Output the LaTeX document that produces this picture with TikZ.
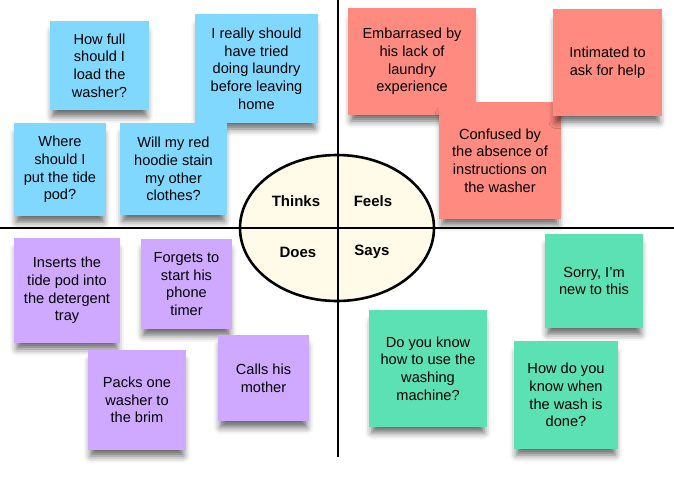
\documentclass[tikz,border=0pt]{standalone}
\usepackage{fontspec}
\setmainfont{Liberation Sans}
\usetikzlibrary{shadows.blur}
\definecolor{thinkblue}{HTML}{80D8FF}
\definecolor{feelred}{HTML}{FF8A80}
\definecolor{doespurple}{HTML}{CFA9FF}
\definecolor{saysgreen}{HTML}{5CE1B4}
\definecolor{cream}{HTML}{FFFBE8}
\tikzset{note/.style={fill=#1, align=center, inner sep=0pt, font=\fontsize{14.6}{17.7}\selectfont,
  blur shadow={shadow xshift=0pt, shadow yshift=-9pt, shadow scale=0.95, shadow blur radius=7pt, shadow opacity=60}}}
\tikzset{lab/.style={font=\fontsize{15}{17}\selectfont\bfseries}}
\tikzset{axis/.style={line width=2.6pt}}

\begin{document}
\begin{tikzpicture}[x=1pt,y=-1pt]
\useasboundingbox (0,0) rectangle (674,477);

% thinks
\node[note=thinkblue, minimum width=99pt, minimum height=89pt] (t1) at (99.5,65.5) {How full\\should I\\load the\\washer?};
\node[note=thinkblue, minimum width=123pt, minimum height=109pt] (t2) at (256.5,68.5) {I really should\\have tried\\doing laundry\\before leaving\\home};
\node[note=thinkblue, minimum width=92pt, minimum height=93pt] (t3) at (60,169.5) {Where\\should I\\put the tide\\pod?};
\node[note=thinkblue, minimum width=107pt, minimum height=92pt] (t4) at (173.5,169) {Will my red\\hoodie stain\\my other\\clothes?};

% feels
\node[note=feelred, minimum width=128pt, minimum height=107pt] (f1) at (412,61.5) {Embarrased by\\his lack of\\laundry\\experience};
\node[note=feelred, minimum width=122pt, minimum height=117pt] (f2) at (500,160.5) {Confused by\\the absence of\\instructions on\\the washer};
\node[note=feelred, minimum width=109pt, minimum height=107pt] (f3) at (607.5,62.5) {Intimated to\\ask for help};

% does
\node[note=doespurple, minimum width=106pt, minimum height=105pt] (d1) at (67,290.5) {Inserts the\\tide pod into\\the detergent\\tray};
\node[note=doespurple, minimum width=91pt, minimum height=90pt] (d2) at (186.5,284) {Forgets to\\start his\\phone\\timer};
\node[note=doespurple, minimum width=98pt, minimum height=100pt] (d3) at (137,400) {Packs one\\washer to\\the brim};
\node[note=doespurple, minimum width=91pt, minimum height=86pt] (d4) at (263.5,378) {Calls his\\mother};

% says
\node[note=saysgreen, minimum width=98pt, minimum height=94pt] (s1) at (594,281) {Sorry, I’m\\new to this};
\node[note=saysgreen, minimum width=118pt, minimum height=117pt] (s2) at (428,368.5) {Do you know\\how to use the\\washing\\machine?};
\node[note=saysgreen, minimum width=104pt, minimum height=108pt] (s3) at (566,395) {How do you\\know when\\the wash is\\done?};

% quadrants
\draw[axis, fill=cream] (337,228) ellipse [x radius=97, y radius=73];
\draw[axis] (0,228) -- (674,228);
\draw[axis] (338,0) -- (338,457);

\node[lab] (thinks) at (296,201) {Thinks};
\node[lab] (feels) at (373,201) {Feels};
\node[lab] (does) at (298,252) {Does};
\node[lab] (says) at (372,252) {Says};
\end{tikzpicture}
\end{document}
